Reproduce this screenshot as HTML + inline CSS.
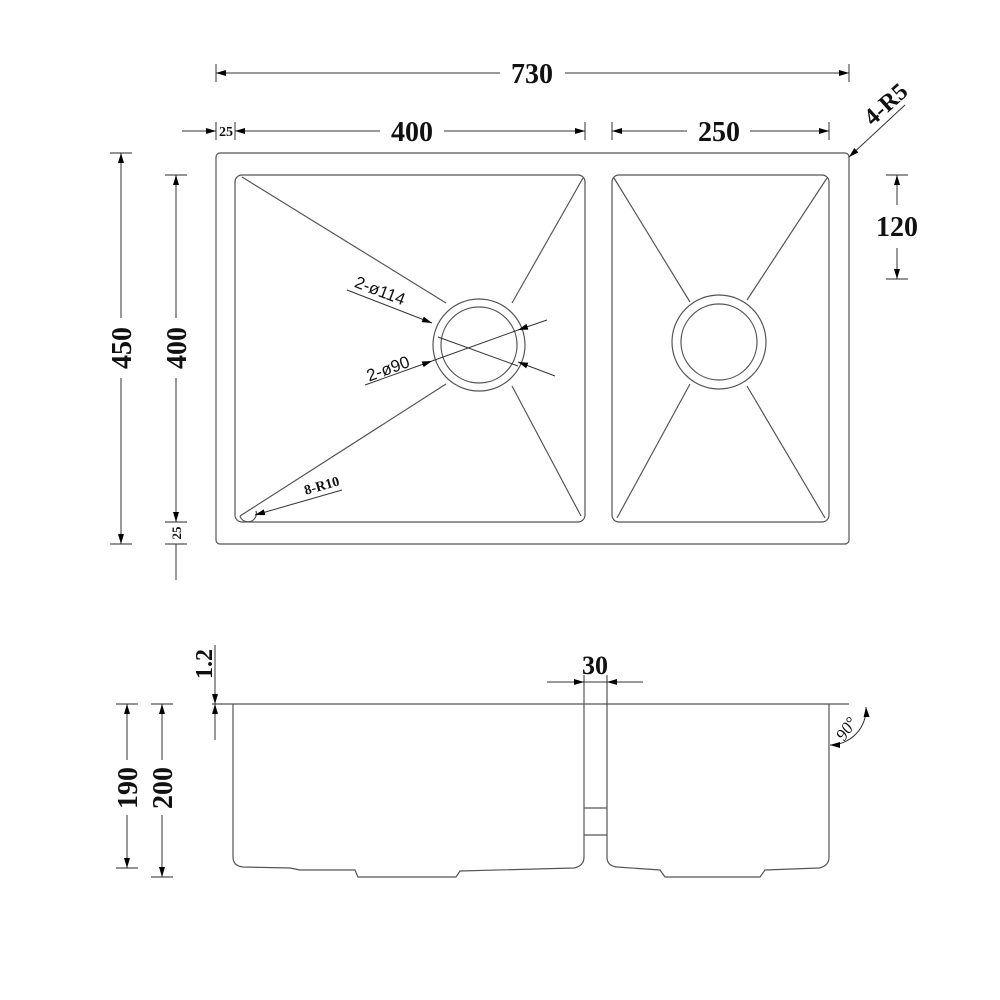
<!DOCTYPE html>
<html><head><style>body{margin:0;background:#fff}svg{display:block}</style></head><body>
<svg width="1000" height="1000" viewBox="0 0 1000 1000" xmlns="http://www.w3.org/2000/svg" font-family="Liberation Serif, serif" font-weight="bold">
<defs><marker id="a" viewBox="0 0 10 6" refX="10" refY="3" markerWidth="10" markerHeight="6" orient="auto-start-reverse" markerUnits="userSpaceOnUse"><path d="M0,0L10,3L0,6z" fill="#000"/></marker></defs>
<g stroke="#555" stroke-width="1.2" fill="none">
<rect x="216" y="153" width="633" height="391" rx="4"/>
<rect x="235" y="175" width="350" height="347" rx="7"/>
<rect x="612" y="175" width="217" height="347" rx="7"/>
<circle cx="479" cy="345" r="46"/><circle cx="479" cy="345" r="38"/>
<circle cx="719" cy="342" r="47"/><circle cx="719" cy="342" r="38"/>
<line x1="242" y1="177" x2="446" y2="303"/><line x1="583" y1="178" x2="512" y2="303"/>
<line x1="240" y1="516" x2="446" y2="384"/><line x1="581" y1="516" x2="512" y2="386"/>
<line x1="614" y1="178" x2="690" y2="302"/><line x1="827" y1="178" x2="747" y2="300"/>
<line x1="617" y1="518" x2="690" y2="384"/><line x1="825" y1="518" x2="747" y2="386"/>
<path d="M240,516 a8,8 0 0 0 16,-5"/>
<line x1="216" y1="64" x2="216" y2="82"/><line x1="849" y1="64" x2="849" y2="82"/>
<line x1="216" y1="122" x2="216" y2="140"/><line x1="235" y1="122" x2="235" y2="140"/><line x1="585" y1="122" x2="585" y2="140"/>
<line x1="612" y1="122" x2="612" y2="140"/><line x1="829" y1="122" x2="829" y2="140"/>
<line x1="110" y1="153" x2="132" y2="153"/><line x1="110" y1="544" x2="132" y2="544"/>
<line x1="165" y1="175" x2="187" y2="175"/><line x1="165" y1="522" x2="187" y2="522"/><line x1="165" y1="544" x2="187" y2="544"/>
<line x1="886" y1="175" x2="908" y2="175"/><line x1="886" y1="279" x2="908" y2="279"/>
<line x1="212" y1="704" x2="849" y2="704"/>
<path d="M233,704 V857 Q233,866 243,867 L290,868 L300,870 L355,870 L358,877 L456,877 L460,871 L574,868 Q584,866 584,857 V704"/>
<path d="M607,704 V857 Q607,866 617,867 L660,870 L665,877 L760,877 L765,870 L819,868 Q829,866 829,857 V704"/>
<line x1="584" y1="808" x2="607" y2="808"/><line x1="584" y1="835" x2="607" y2="835"/>
<line x1="584" y1="675" x2="584" y2="704"/><line x1="607" y1="675" x2="607" y2="704"/>
<line x1="116" y1="704" x2="138" y2="704"/><line x1="116" y1="868" x2="138" y2="868"/>
<line x1="151" y1="704" x2="173" y2="704"/><line x1="151" y1="877" x2="173" y2="877"/>
</g>
<g stroke="#333" stroke-width="1" fill="none">
<line x1="216" y1="73" x2="500" y2="73" marker-start="url(#a)"/><line x1="565" y1="73" x2="849" y2="73" marker-end="url(#a)"/>
<line x1="182" y1="131" x2="216" y2="131" marker-end="url(#a)"/><line x1="235" y1="131" x2="380" y2="131" marker-start="url(#a)"/><line x1="444" y1="131" x2="585" y2="131" marker-end="url(#a)"/>
<line x1="612" y1="131" x2="687" y2="131" marker-start="url(#a)"/><line x1="750" y1="131" x2="829" y2="131" marker-end="url(#a)"/>
<line x1="121" y1="153" x2="121" y2="318" marker-start="url(#a)"/><line x1="121" y1="378" x2="121" y2="544" marker-end="url(#a)"/>
<line x1="176" y1="175" x2="176" y2="318" marker-start="url(#a)"/><line x1="176" y1="378" x2="176" y2="522" marker-end="url(#a)"/>
<line x1="176" y1="544" x2="176" y2="580"/>
<line x1="897" y1="175" x2="897" y2="205" marker-start="url(#a)"/><line x1="897" y1="248" x2="897" y2="279" marker-end="url(#a)"/>
<line x1="905" y1="105" x2="849" y2="157" marker-end="url(#a)"/>
<line x1="347" y1="290" x2="432" y2="323" marker-end="url(#a)"/><line x1="555" y1="376" x2="518" y2="362" marker-end="url(#a)"/>
<line x1="438" y1="337" x2="518" y2="366"/>
<line x1="365" y1="385" x2="432" y2="361" marker-end="url(#a)"/><line x1="547" y1="320" x2="518" y2="330" marker-end="url(#a)"/>
<line x1="432" y1="361" x2="518" y2="330"/>
<line x1="342" y1="490" x2="255" y2="515" marker-end="url(#a)"/>
<line x1="215" y1="645" x2="215" y2="704" marker-end="url(#a)"/><line x1="215" y1="740" x2="215" y2="704" marker-end="url(#a)"/>
<line x1="127" y1="704" x2="127" y2="760" marker-start="url(#a)"/><line x1="127" y1="815" x2="127" y2="868" marker-end="url(#a)"/>
<line x1="162" y1="704" x2="162" y2="760" marker-start="url(#a)"/><line x1="162" y1="815" x2="162" y2="877" marker-end="url(#a)"/>
<line x1="547" y1="682" x2="584" y2="682" marker-end="url(#a)"/><line x1="643" y1="682" x2="607" y2="682" marker-end="url(#a)"/>
<line x1="584" y1="682" x2="607" y2="682"/>
<path d="M830,745 A36,36 0 0 0 866,707" marker-start="url(#a)" marker-end="url(#a)"/>
</g>
<g fill="#111">
<text x="532" y="83" font-size="28" text-anchor="middle">730</text>
<text x="412" y="141" font-size="28" text-anchor="middle">400</text>
<text x="226" y="136" font-size="14" text-anchor="middle">25</text>
<text x="719" y="141" font-size="28" text-anchor="middle">250</text>
<text x="897" y="236" font-size="28" text-anchor="middle">120</text>
<text transform="translate(131,348) rotate(-90)" font-size="28" text-anchor="middle">450</text>
<text transform="translate(186,348) rotate(-90)" font-size="28" text-anchor="middle">400</text>
<text transform="translate(181,533) rotate(-90)" font-size="13" text-anchor="middle">25</text>
<text transform="translate(891,110) rotate(-42)" font-size="24" text-anchor="middle">4-R5</text>
<text transform="translate(378,296) rotate(21)" font-size="17" font-family="Liberation Sans, sans-serif" font-weight="normal" text-anchor="middle">2-ø114</text>
<text transform="translate(390,374) rotate(-20)" font-size="17" font-family="Liberation Sans, sans-serif" font-weight="normal" text-anchor="middle">2-ø90</text>
<text transform="translate(323,490) rotate(-16)" font-size="14" text-anchor="middle">8-R10</text>
<text transform="translate(212,664) rotate(-90)" font-size="24" text-anchor="middle">1.2</text>
<text x="595" y="674" font-size="26" text-anchor="middle">30</text>
<text transform="translate(137,788) rotate(-90)" font-size="28" text-anchor="middle">190</text>
<text transform="translate(172,788) rotate(-90)" font-size="28" text-anchor="middle">200</text>
<text transform="translate(851,732) rotate(-55)" font-size="17" font-style="italic" font-weight="normal" text-anchor="middle">90°</text>
</g>
</svg>
</body></html>
